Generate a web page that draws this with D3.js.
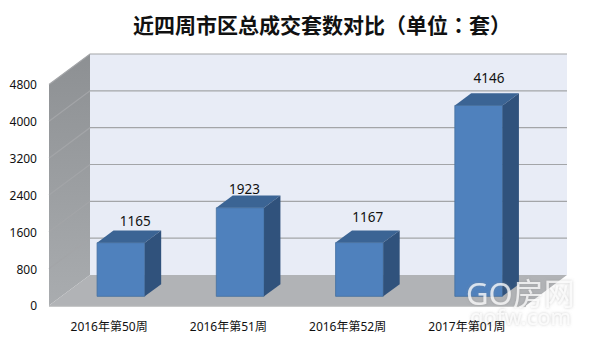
<!DOCTYPE html>
<html>
<head>
<meta charset="utf-8">
<script src="https://cdn.jsdelivr.net/npm/d3@7"></script>
<style>
    html, body { margin: 0; padding: 0; background: #fff; }
    svg { display: block; }
</style>
</head>
<body>
<svg id="chart"></svg>
<script>
const weeks = ["2016年第50周", "2016年第51周", "2016年第52周", "2017年第01周"];
const deals = [1165, 1923, 1167, 4146];
const yTicks = [0, 800, 1600, 2400, 3200, 4000, 4800];
const titleParts = ["近四周市区总成交套数对比（单位", "：", "套）"];
// the value labels were hand placed in the original, so each one is nudged
const labelNudgeX = [2, -8, -4, -2];
const labelNudgeY = [1, 4, -3, -5];

const width = 600, height = 351;
const margin = { top: 84.5, right: 74, bottom: 45.5, left: 49 };
// offset of the back wall from the front plane
const depth = { x: 41, y: -30.5 };
const barNear = 0.3, barFar = 0.7;

const svg = d3.select("#chart").attr("width", width).attr("height", height);
const labelFont = "'Noto Sans', 'Noto Sans CJK SC', sans-serif";

const xScale = d3.scaleBand()
    .domain(weeks)
    .range([margin.left, width - margin.right])
    .paddingInner(0.6)
    .paddingOuter(0.3);
const yScale = d3.scaleLinear()
    .domain([0, 4800])
    .range([height - margin.bottom, margin.top]);

// shift a front-plane point back by t of the chart depth
const pt = (x, y, t) => [x + depth.x * t, y + depth.y * t];
const poly = points => points.map(p => p.join(",")).join(" ");

const x0 = margin.left, x1 = width - margin.right;
const yBase = yScale(0), yTop = yScale(4800);

// back wall
svg.append("rect")
    .attr("x", x0 + depth.x)
    .attr("y", yTop + depth.y)
    .attr("width", x1 - x0)
    .attr("height", yBase - yTop)
    .attr("fill", "#e8ecf6");

const defs = svg.append("defs");

// left wall
const wallGrad = defs.append("linearGradient")
    .attr("id", "wall").attr("x1", 0).attr("y1", 0).attr("x2", 0).attr("y2", 1);
wallGrad.append("stop").attr("offset", 0).attr("stop-color", "#8d9093");
wallGrad.append("stop").attr("offset", 1).attr("stop-color", "#a9acaf");
svg.append("polygon")
    .attr("points", poly([[x0, yTop], pt(x0, yTop, 1), pt(x0, yBase, 1), [x0, yBase]]))
    .attr("fill", "url(#wall)");

// floor
svg.append("polygon")
    .attr("points", poly([[x0, yBase], pt(x0, yBase, 1), pt(x1, yBase, 1), [x1, yBase]]))
    .attr("fill", "#b1b3b6");
svg.append("line")
    .attr("x1", x0).attr("x2", x1)
    .attr("y1", yBase + 0.5).attr("y2", yBase + 0.5)
    .attr("stroke", "#8f9194").attr("stroke-width", 1);

// gridlines on both walls
svg.append("g").selectAll("polyline")
    .data(yTicks.filter(d => d > 0))
    .join("polyline")
    .attr("points", d => poly([[x0, yScale(d)], pt(x0, yScale(d), 1), pt(x1, yScale(d), 1)]))
    .attr("fill", "none")
    .attr("stroke", "#a3a5a8")
    .attr("stroke-width", 1.2);

// y axis, labels only
const yAxis = svg.append("g")
    .attr("transform", `translate(${x0 - 12}, 0.5)`)
    .call(d3.axisLeft(yScale).tickValues(yTicks).tickSize(0).tickPadding(0).tickFormat(d3.format("d")));
yAxis.select(".domain").remove();
yAxis.selectAll("text")
    .attr("font-family", labelFont)
    .attr("font-size", "12px")
    .attr("fill", "#111");

// bars
const bars = svg.append("g").selectAll("g")
    .data(weeks.map((w, i) => ({ week: w, value: deals[i], i })))
    .join("g");

const barBox = d => {
    const l = xScale(d.week), r = l + xScale.bandwidth();
    return { l, r, top: yScale(d.value), base: yBase };
};

// front face
bars.append("polygon")
    .attr("points", d => {
        const b = barBox(d);
        return poly([pt(b.l, b.top, barNear), pt(b.r, b.top, barNear), pt(b.r, b.base, barNear), pt(b.l, b.base, barNear)]);
    })
    .attr("fill", "#4f81bd")
    .attr("stroke", "#44709f")
    .attr("stroke-width", 0.8);

// top face
bars.append("polygon")
    .attr("points", d => {
        const b = barBox(d);
        return poly([pt(b.l, b.top, barNear), pt(b.l, b.top, barFar), pt(b.r, b.top, barFar), pt(b.r, b.top, barNear)]);
    })
    .attr("fill", "#3b6494");

// side face
bars.append("polygon")
    .attr("points", d => {
        const b = barBox(d);
        return poly([pt(b.r, b.top, barNear), pt(b.r, b.top, barFar), pt(b.r, b.base, barFar), pt(b.r, b.base, barNear)]);
    })
    .attr("fill", "#30527c");

// value labels sit above the back edge of the bar top
bars.append("text")
    .attr("x", d => pt(xScale(d.week) + xScale.bandwidth() / 2, 0, 0.6)[0] + labelNudgeX[d.i])
    .attr("y", d => yScale(d.value) - 27 + labelNudgeY[d.i])
    .attr("text-anchor", "middle")
    .attr("font-family", labelFont)
    .attr("font-size", "13.5px")
    .attr("fill", "#111")
    .text(d => d.value);

// watermark
const shadow = defs.append("filter")
    .attr("id", "markShadow")
    .attr("x", "-10%").attr("y", "-30%").attr("width", "120%").attr("height", "160%");
shadow.append("feDropShadow")
    .attr("dx", 0).attr("dy", 0).attr("stdDeviation", 1.5)
    .attr("flood-color", "#8a8a8a").attr("flood-opacity", 0.6);

const mark = svg.append("g")
    .attr("font-family", labelFont)
    .attr("fill", "#fff")
    .attr("filter", "url(#markShadow)");
mark.append("text").attr("x", 466).attr("y", 305).attr("font-size", "31px").attr("fill-opacity", 0.75).text("GO房网");
mark.append("text").attr("x", 470).attr("y", 325).attr("font-size", "22px").attr("fill-opacity", 0.75).text("gofw.com");

// category labels
svg.append("g").selectAll("text")
    .data(weeks)
    .join("text")
    .attr("x", d => xScale(d) + xScale.bandwidth() / 2 + 0.5)
    .attr("y", 331)
    .attr("text-anchor", "middle")
    .attr("font-family", labelFont)
    .attr("font-size", "12px")
    .attr("fill", "#111")
    .text(d => d);

// title, colon taken from the TC cut because it is centred in its cell there
svg.append("text")
    .attr("x", 133)
    .attr("y", 33)
    .attr("font-family", "'Noto Sans CJK SC', sans-serif")
    .attr("font-weight", "bold")
    .attr("font-size", "21px")
    .attr("fill", "#111")
    .selectAll("tspan")
    .data(titleParts)
    .join("tspan")
    .attr("font-family", (d, i) => i === 1 ? "'Noto Sans CJK TC', sans-serif" : null)
    .text(d => d);
</script>
</body>
</html>
